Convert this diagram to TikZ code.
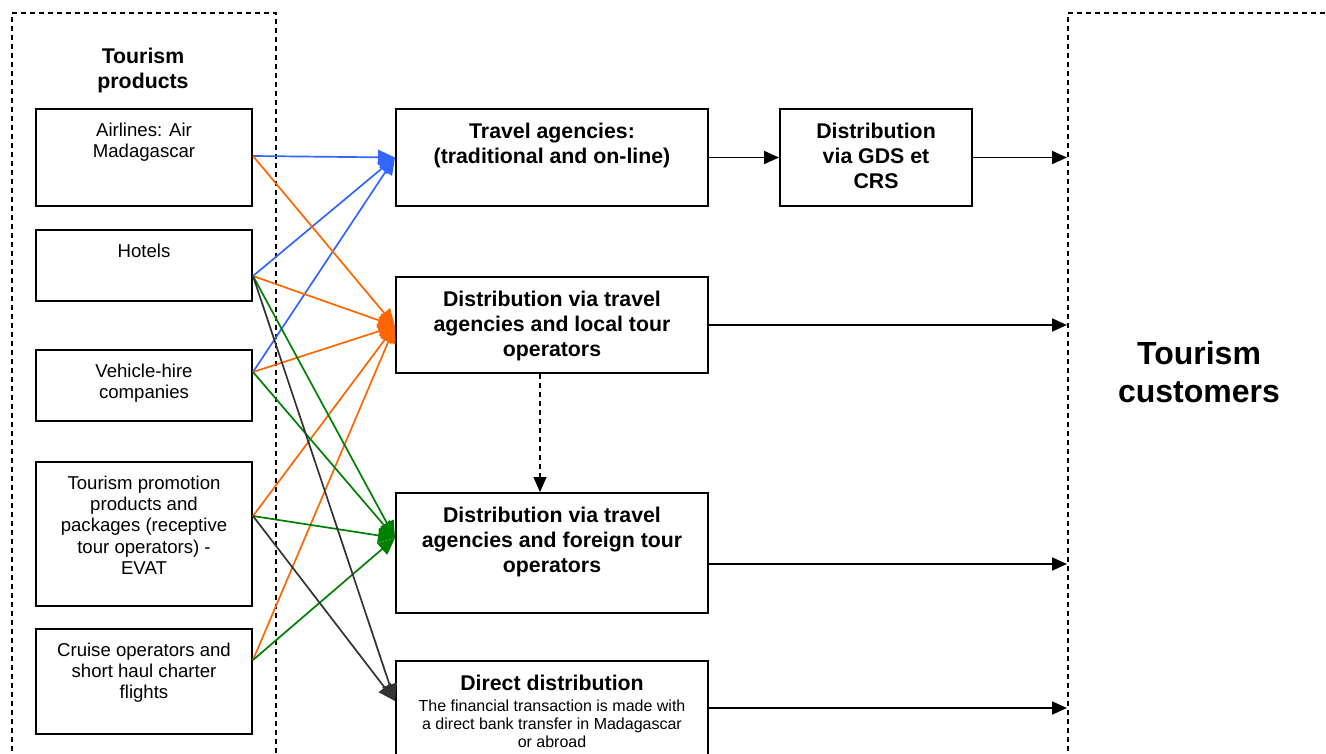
\documentclass[tikz,border=0pt]{standalone}
\usepackage{fontspec}
\setmainfont{Liberation Sans}
\usetikzlibrary{arrows.meta,calc}
\definecolor{cblue}{HTML}{3366FF}
\definecolor{corange}{HTML}{FF6600}
\definecolor{cgreen}{HTML}{008000}
\definecolor{cdark}{HTML}{333333}
\begin{document}
\begin{tikzpicture}[x=1pt,y=-1pt,
  box/.style={draw, line width=2pt, rectangle, inner sep=0pt, anchor=north west},
  dbox/.style={draw, line width=1.5pt, dash pattern=on 5pt off 4pt, rectangle, inner sep=0pt, anchor=north west},
  smalltxt/.style={inner sep=0pt, anchor=north, align=center, font=\fontsize{18.6}{21.3}\selectfont},
  boldtxt/.style={inner sep=0pt, anchor=north, align=center, font=\fontsize{21.3}{25}\selectfont\bfseries},
  carrow/.style={line width=1.7pt, -{Triangle[length=17pt,width=15pt]}},
  karrow/.style={line width=1.8pt, black, -{Triangle[length=15pt,width=13pt]}},
]
\useasboundingbox (0,0) rectangle (1326,753);
\clip (0,0) rectangle (1326,753);

% dashed frames
\node[dbox, minimum width=264pt, minimum height=800pt] (prod) at (11,12) {};
\node[dbox, minimum width=264pt, minimum height=800pt] (cust) at (1067,12) {};
\node[boldtxt, anchor=center] (prodT) at (143,70) {Tourism\\products};
\node[inner sep=0pt, align=center, font=\fontsize{32}{38}\selectfont\bfseries] (custT) at (1199,372) {Tourism\\customers};

% left boxes
\node[box, minimum width=216pt, minimum height=97pt] (air) at (35,108) {};
\node[box, minimum width=216pt, minimum height=71pt] (hot) at (35,229) {};
\node[box, minimum width=216pt, minimum height=71pt] (veh) at (35,349) {};
\node[box, minimum width=216pt, minimum height=144pt] (pro) at (35,461) {};
\node[box, minimum width=216pt, minimum height=105pt] (cru) at (35,628) {};
\node[smalltxt] (airT) at ([yshift=-14.5pt]air.north) {Airlines: Air\\Madagascar};
\node[smalltxt] (hotT) at ([yshift=-14.5pt]hot.north) {Hotels};
\node[smalltxt] (vehT) at ([yshift=-14.5pt]veh.north) {Vehicle-hire\\companies};
\node[smalltxt] (proT) at ([yshift=-14.5pt]pro.north) {Tourism promotion\\products and\\packages (receptive\\tour operators) -\\EVAT};
\node[smalltxt] (cruT) at ([yshift=-14.5pt]cru.north) {Cruise operators and\\short haul charter\\flights};

% middle boxes
\node[box, minimum width=312pt, minimum height=97pt] (ta) at (395,108) {};
\node[box, minimum width=312pt, minimum height=96pt] (loc) at (395,276) {};
\node[box, minimum width=312pt, minimum height=120pt] (fo) at (395,492) {};
\node[box, minimum width=312pt, minimum height=120pt] (dir) at (395,660) {};
\node[box, minimum width=192pt, minimum height=97pt] (gds) at (779,108) {};
\node[boldtxt] (taT) at ([yshift=-14.5pt]ta.north) {Travel agencies:\\(traditional and on-line)};
\node[boldtxt] (locT) at ([yshift=-14.5pt]loc.north) {Distribution via travel\\agencies and local tour\\operators};
\node[boldtxt] (foT) at ([yshift=-14.5pt]fo.north) {Distribution via travel\\agencies and foreign tour\\operators};
\node[boldtxt] (dirT) at ([yshift=-14.5pt]dir.north) {Direct distribution};
\node[inner sep=0pt, anchor=north, align=center, font=\fontsize{16}{18}\selectfont] (dirS) at ([yshift=-40pt]dir.north) {The financial transaction is made with\\a direct bank transfer in Madagascar\\or abroad};
\node[boldtxt] (gdsT) at ([yshift=-14.5pt]gds.north) {Distribution\\via GDS et\\CRS};

% source points
\coordinate (sAir) at ($(air.north east)+(0,48)$);
\coordinate (sHot) at ($(hot.north east)+(0,47)$);
\coordinate (sVeh) at ($(veh.north east)+(0,23)$);
\coordinate (sPro) at ($(pro.north east)+(0,55)$);
\coordinate (sCru) at ($(cru.north east)+(0,32)$);
% target points
\coordinate (tTa) at (ta.west);
\coordinate (tLoc) at ($(loc.north west)+(0,50)$);
\coordinate (tFo) at ($(fo.north west)+(0,46)$);
\coordinate (tDir) at ($(dir.north west)+(0,41)$);

% blue
\draw[carrow, cblue] (sAir) -- (tTa);
\draw[carrow, cblue] (sHot) -- (tTa);
\draw[carrow, cblue] (sVeh) -- (tTa);
% orange
\draw[carrow, corange] (sAir) -- (tLoc);
\draw[carrow, corange] (sHot) -- (tLoc);
\draw[carrow, corange] (sVeh) -- (tLoc);
\draw[carrow, corange] (sPro) -- (tLoc);
\draw[carrow, corange] (sCru) -- (tLoc);
% green
\draw[carrow, cgreen] (sHot) -- (tFo);
\draw[carrow, cgreen] (sVeh) -- (tFo);
\draw[carrow, cgreen] (sPro) -- (tFo);
\draw[carrow, cgreen] (sCru) -- (tFo);
% dark
\draw[carrow, cdark] (sHot) -- (tDir);
\draw[carrow, cdark] (sPro) -- (tDir);

% black arrows
\draw[karrow] (ta.east) -- (gds.west);
\draw[karrow] (gds.east) -- (gds.east -| cust.west);
\draw[karrow] (loc.east) -- (loc.east -| cust.west);
\draw[karrow] ($(fo.north east)+(0,72)$) coordinate (fOut) -- (fOut -| cust.west);
\draw[karrow] ($(dir.north east)+(0,48)$) coordinate (dOut) -- (dOut -| cust.west);
\draw[karrow, dash pattern=on 5pt off 4pt, line width=1.4pt] ($(loc.south)+(-12,0)$) coordinate (lS) -- (lS |- fo.north);
\end{tikzpicture}
\end{document}
